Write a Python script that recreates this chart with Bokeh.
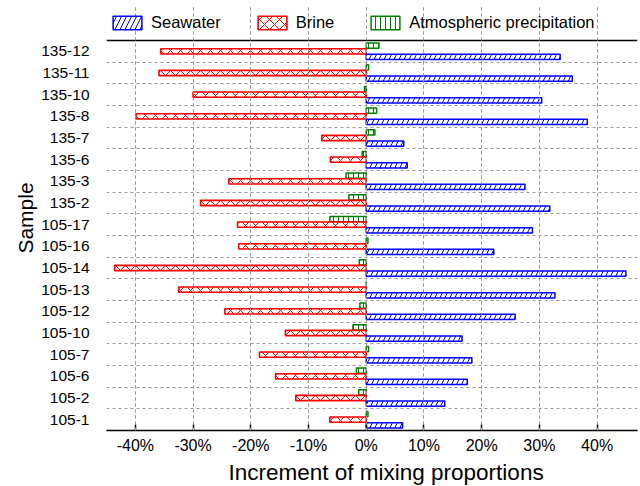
from bokeh.plotting import figure
from bokeh.models import (ColumnDataSource, Range1d, FixedTicker, Span, Legend,
                          LegendItem, Grid, Title)
from bokeh.transform import dodge
from bokeh.embed import file_html
from bokeh.resources import INLINE

samples = ["135-12", "135-11", "135-10", "135-8", "135-7", "135-6", "135-3",
           "135-2", "105-17", "105-16", "105-14", "105-13", "105-12", "105-10",
           "105-7", "105-6", "105-2", "105-1"]
seawater = [33.6, 35.7, 30.4, 38.3, 6.5, 7.1, 27.5, 31.8, 28.8, 22.1, 45.0,
            32.7, 25.8, 16.6, 18.3, 17.5, 13.6, 6.3]
brine = [-35.6, -35.9, -30.0, -39.9, -7.7, -6.2, -23.8, -28.7, -22.3, -22.1,
         -43.6, -32.5, -24.5, -14.0, -18.5, -15.7, -12.2, -6.3]
atmos = [2.2, 0.4, -0.3, 1.8, 1.5, -0.7, -3.5, -3.0, -6.3, 0.3, -1.2, 0.0,
         -1.1, -2.3, 0.4, -1.7, -1.3, 0.3]
x_ticks = [-40, -30, -20, -10, 0, 10, 20, 30, 40]
x_labels = ["-40%", "-30%", "-20%", "-10%", "0%", "10%", "20%", "30%", "40%"]

n = len(samples)
ypos = [n - 1 - i for i in range(n)]
src = ColumnDataSource(dict(y=ypos, sea=seawater, brine=brine, atm=atmos))

FONT = "Liberation Sans"
FW, FH = 531, 425
ROW_PX = 21.665
EXTRA = 35 / ROW_PX  # legend strip above the rows, in row units

p = figure(frame_width=FW, frame_height=FH, x_range=Range1d(-45, 47),
           y_range=Range1d(-0.5, n - 0.5 + EXTRA), output_backend="svg",
           toolbar_location=None, min_border_left=106, min_border_right=3,
           min_border_top=5, min_border_bottom=0)
p.outline_line_color = None
p.background_fill_color = "white"

H = 0.245
r_atm = p.hbar(y=dodge("y", 0.26, range=p.y_range), left=0, right="atm",
               height=H, source=src, fill_color="white", line_color="#008000",
               line_width=1.5, hatch_pattern="|", hatch_color="#008000",
               hatch_scale=5, hatch_weight=1)
r_brine = p.hbar(y="y", left=0, right="brine", height=H, source=src,
                 fill_color="white", line_color="#ff0000", line_width=1.6,
                 hatch_pattern="x", hatch_color="#ff0000", hatch_scale=10,
                 hatch_weight=1)
r_sea = p.hbar(y=dodge("y", -0.26, range=p.y_range), left=0, right="sea",
               height=H, source=src, fill_color="white", line_color="#0000ff",
               line_width=1.5, hatch_pattern="/", hatch_color="#0000ff",
               hatch_scale=10, hatch_weight=1)

top = Span(location=n - 0.5, dimension="width", line_color="black", line_width=1.5)
p.add_layout(top)
zero = Grid(dimension=0, ticker=FixedTicker(ticks=[0]), bounds=(-0.5, n - 0.5),
            grid_line_color="black", grid_line_width=1.5, level="overlay")
p.add_layout(zero)

# x axis
p.xaxis.ticker = FixedTicker(ticks=x_ticks)
p.xaxis.major_label_overrides = {t: l for t, l in zip(x_ticks, x_labels)}
p.xaxis.major_tick_in = 6
p.xaxis.major_tick_out = 0
p.xaxis.minor_tick_line_color = None
p.xaxis.axis_line_color = "black"
p.xaxis.axis_line_width = 1.5
p.xaxis.major_tick_line_width = 1.5
p.xaxis.major_label_text_font = FONT
p.xaxis.major_label_text_font_size = "16px"
p.xaxis.major_label_text_color = "black"
p.xaxis.major_label_standoff = 6
p.add_layout(Title(text="Increment of mixing proportions", align="left",
                   offset=122, text_font=FONT, text_font_size="22.5px",
                   text_font_style="normal", text_color="black",
                   standoff=3), "below")

# y axis
p.yaxis.ticker = FixedTicker(ticks=ypos)
p.yaxis.major_label_overrides = {y: s for y, s in zip(ypos, samples)}
p.yaxis.axis_line_color = None
p.yaxis.major_tick_line_color = None
p.yaxis.major_tick_in = 0
p.yaxis.major_tick_out = 0
p.yaxis.minor_tick_line_color = None
p.yaxis.major_label_text_font = FONT
p.yaxis.major_label_text_font_size = "15.5px"
p.yaxis.major_label_text_color = "black"
p.yaxis.major_label_standoff = 17
p.add_layout(Title(text="Sample", align="center", offset=-(EXTRA * ROW_PX) / 2,
                   text_font=FONT, text_font_size="21px",
                   text_font_style="normal", text_color="black",
                   standoff=3), "left")

# grids
p.xgrid.ticker = FixedTicker(ticks=x_ticks)
p.xgrid.bounds = (-0.5, n - 0.5)
p.xgrid.grid_line_color = "#999999"
p.xgrid.grid_line_dash = "3 3"
p.xgrid.grid_line_width = 1
p.ygrid.ticker = FixedTicker(ticks=[y + 0.5 for y in ypos[1:]])
p.ygrid.grid_line_color = "#999999"
p.ygrid.grid_line_dash = "3 3"
p.ygrid.grid_line_width = 1

legend = Legend(items=[LegendItem(label="Seawater", renderers=[r_sea]),
                       LegendItem(label="Brine", renderers=[r_brine]),
                       LegendItem(label="Atmospheric precipitation", renderers=[r_atm])],
                orientation="horizontal", location=(3, FH - 27),
                glyph_width=36, glyph_height=17, label_standoff=6, spacing=33,
                label_text_font=FONT, label_text_font_size="16.5px",
                label_text_color="black", border_line_color=None,
                background_fill_alpha=0, margin=0, padding=4)
p.add_layout(legend, "center")

open("out.html", "w").write(file_html(p, INLINE))
